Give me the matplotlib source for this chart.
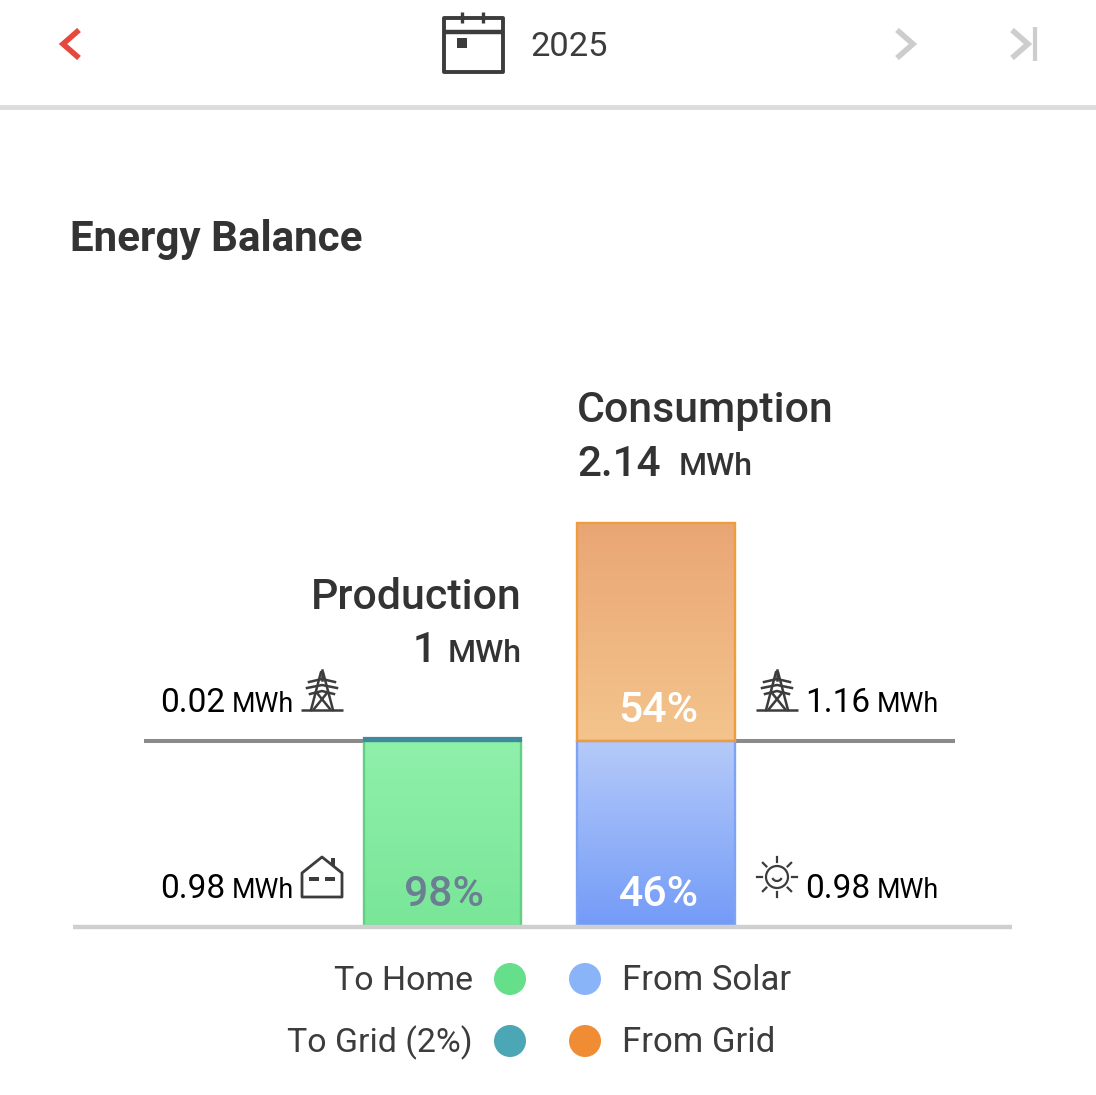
import numpy as np
import matplotlib
matplotlib.use("Agg")
import matplotlib.pyplot as plt
from matplotlib.colors import LinearSegmentedColormap
from matplotlib.patches import Circle, Polygon, Rectangle

plt.rcParams['font.family'] = ['Roboto', 'DejaVu Sans']

W, H = 1096, 1095

# data (MWh)
bars = ["Production", "Consumption"]
home = 0.98
to_grid = 0.02
solar = 0.98
from_grid = 1.16
production_total = "1"
consumption_total = "2.14"
pct_labels = ["98%", "54%", "46%"]
legend_left = ["To Home", "To Grid (2%)"]
legend_right = ["From Solar", "From Grid"]
legend_left_colors = ["#66df8b", "#4ba6b6"]
legend_right_colors = ["#8ab4f8", "#f08c33"]

DARK = "#3c3c3c"

fig = plt.figure(figsize=(W / 100, H / 100), dpi=100, facecolor="white")

# overlay in pixel coords for app chrome / icons
ui = fig.add_axes([0, 0, 1, 1], zorder=3)
ui.set_xlim(0, W)
ui.set_ylim(H, 0)
ui.axis("off")
ui.patch.set_alpha(0)

# chart axes: 188.3 px per MWh, baseline at y=925
left, right, bottom, top = 73, 1012, 925.8, 360
ax = fig.add_axes([left / W, 1 - bottom / H, (right - left) / W, (bottom - top) / H], zorder=2)
ax.patch.set_alpha(0)
ax.set_xticks([])
ax.set_yticks([])
for s in ["left", "right", "top"]:
    ax.spines[s].set_visible(False)
ax.spines["bottom"].set_color("#cfcfcf")
ax.spines["bottom"].set_linewidth(3.2)
ax.spines["bottom"].set_capstyle("butt")
ax.spines["bottom"].set_position(("outward", 1))
ax.spines["bottom"].set_zorder(6)

bar_w = 0.738
x = np.arange(len(bars))


def grad_bar(xc, y0, h, top_col, bot_col, edge):
    cmap = LinearSegmentedColormap.from_list("g", [bot_col, top_col])
    g = np.linspace(0, 1, 256).reshape(-1, 1)
    ax.imshow(g, origin="lower", cmap=cmap, aspect="auto", zorder=2,
              extent=[xc - bar_w / 2, xc + bar_w / 2, y0, y0 + h])
    ax.bar(xc, h, bar_w, bottom=y0, facecolor="none", edgecolor=edge, linewidth=1.7, zorder=3)


grad_bar(x[0], 0, home, "#8ff0ab", "#79e698", "#62cf82")
ax.bar(x[0], to_grid, bar_w, bottom=home, color="#3f8a9c", edgecolor="#3f8a9c", linewidth=1.6, zorder=4)
grad_bar(x[1], 0, solar, "#b5caf9", "#739bf7", "#7ea3f5")
grad_bar(x[1], solar, from_grid, "#e9a675", "#f4c48c", "#ee9c3e")
ax.set_xlim((left - 442.5) / 213.5, (right - 442.5) / 213.5)
ax.set_ylim(0, (bottom - top) / 188.3)

# grid reference line at solar / home level
ax.hlines(home, (144 - 442.5) / 213.5, x[0] - bar_w / 2, color="#8a8a8a", lw=2.9, zorder=1)
ax.hlines(home, x[1] + bar_w / 2, (955 - 442.5) / 213.5, color="#8a8a8a", lw=2.9, zorder=1)

# percent labels
ui.text(444.5, 894, pct_labels[0], fontsize=30.8, color="#6b7f93", ha="center", va="center", fontweight="medium")
ui.text(658.5, 710, pct_labels[1], fontsize=30.8, color="white", ha="center", va="center", fontweight="medium")
ui.text(658.5, 894, pct_labels[2], fontsize=30.8, color="white", ha="center", va="center", fontweight="medium")

# heading
ui.text(70, 239, "Energy Balance", fontsize=30.3, color="#333333", fontweight="bold", va="center")
ui.text(569, 47, "2025", fontsize=24.8, color=DARK, ha="center", va="center")

# totals
ui.text(577, 422, bars[1], fontsize=30.8, color="#333333", va="baseline", fontweight="medium")
ui.text(577, 476, consumption_total, fontsize=30.4, color="#333333", va="baseline", fontweight="medium")
ui.text(679, 475, "MWh", fontsize=23, color="#333333", va="baseline", fontweight="medium")
ui.text(522, 609, bars[0], fontsize=30.9, color="#333333", ha="right", va="baseline", fontweight="medium")
ui.text(522, 661.5, "MWh", fontsize=23, color="#333333", ha="right", va="baseline", fontweight="medium")
ui.text(436, 662, production_total, fontsize=30, color="#333333", ha="right", va="baseline", fontweight="medium")


def value_label(px, py, val):
    ui.text(px, py, val, fontsize=24, color="black", va="baseline")
    ui.text(px + 71, py, "MWh", fontsize=19.4, color="black", va="baseline")


value_label(160.5, 712, f"{to_grid:.2f}")
value_label(160.5, 898, f"{home:.2f}")
value_label(805.5, 712, f"{from_grid:.2f}")
value_label(805.5, 898, f"{solar:.2f}")

# legend
for i, y in enumerate([979, 1041]):
    ui.text(473, y + 2, legend_left[i], fontsize=24.4, color=DARK, ha="right", va="center")
    ui.text(622, y + 2, legend_right[i], fontsize=25, color=DARK, ha="left", va="center")
    ui.add_patch(Circle((510, y), 16, color=legend_left_colors[i], lw=0))
    ui.add_patch(Circle((585, y), 16, color=legend_right_colors[i], lw=0))

# top bar
ui.plot([0, W], [107, 107], color="#dcdcdc", lw=3.5)
ui.plot([79, 63, 79], [30, 44, 58], color="#e8473d", lw=4, solid_joinstyle="miter", solid_capstyle="butt")
ui.plot([897, 913, 897], [30, 44, 58], color="#cdcdcd", lw=4, solid_joinstyle="miter", solid_capstyle="butt")
ui.plot([1012, 1028, 1012], [30, 44, 58], color="#cdcdcd", lw=4, solid_joinstyle="miter", solid_capstyle="butt")
ui.plot([1034.5, 1034.5], [27, 61], color="#cdcdcd", lw=3, solid_capstyle="butt")

# calendar icon
ui.add_patch(Rectangle((444, 18), 59, 54, fill=False, edgecolor=DARK, lw=2.8, joinstyle="round"))
ui.plot([444, 503], [32, 32], color=DARK, lw=3.2, solid_capstyle="butt")
ui.plot([462, 462], [12, 23], color=DARK, lw=2.4, solid_capstyle="butt")
ui.plot([483, 483], [12, 23], color=DARK, lw=2.4, solid_capstyle="butt")
ui.add_patch(Rectangle((457, 38), 10, 10, color=DARK, lw=0))


def tower(cx, base):
    c = DARK
    lw = 1.8
    ui.plot([cx - 21, cx + 21], [base, base], color=c, lw=lw, solid_capstyle="butt")
    ui.plot([cx - 11, cx - 1, cx + 1, cx + 11], [base, base - 38, base - 38, base], color=c, lw=lw)
    ui.plot([cx, cx], [base - 40, base - 30], color=c, lw=lw)
    for dy, hw in [(-31, 13), (-25, 15), (-19, 12)]:
        ui.plot([cx - hw, cx, cx + hw], [base + dy + 3, base + dy, base + dy + 3], color=c, lw=lw)
    ui.plot([cx - 8, cx + 5], [base - 1, base - 17], color=c, lw=lw)
    ui.plot([cx + 8, cx - 5], [base - 1, base - 17], color=c, lw=lw)


tower(322, 710)
tower(777, 710)

# house icon
ui.add_patch(Polygon([(302, 897), (302, 873), (322, 857), (342, 873), (342, 897)], closed=True,
                     fill=False, edgecolor=DARK, lw=2, joinstyle="round"))
ui.add_patch(Rectangle((331, 858), 4, 8, color=DARK, lw=0))
ui.add_patch(Rectangle((309, 877), 10, 3.5, color=DARK, lw=0))
ui.add_patch(Rectangle((325, 877), 10, 3.5, color=DARK, lw=0))

# sun icon
sx, sy = 777, 877
ui.add_patch(Circle((sx, sy), 11, fill=False, edgecolor=DARK, lw=1.6))
ang = np.linspace(0.2 * np.pi, 0.8 * np.pi, 20)
ui.plot(sx + 5 * np.cos(ang), sy - 1 + 5 * np.sin(ang), color=DARK, lw=1.6)
for a in np.arange(8) * np.pi / 4:
    ui.plot([sx + 15 * np.cos(a), sx + 20 * np.cos(a)], [sy + 15 * np.sin(a), sy + 20 * np.sin(a)], color=DARK, lw=1.6)

fig.savefig("out.png", dpi=100)
